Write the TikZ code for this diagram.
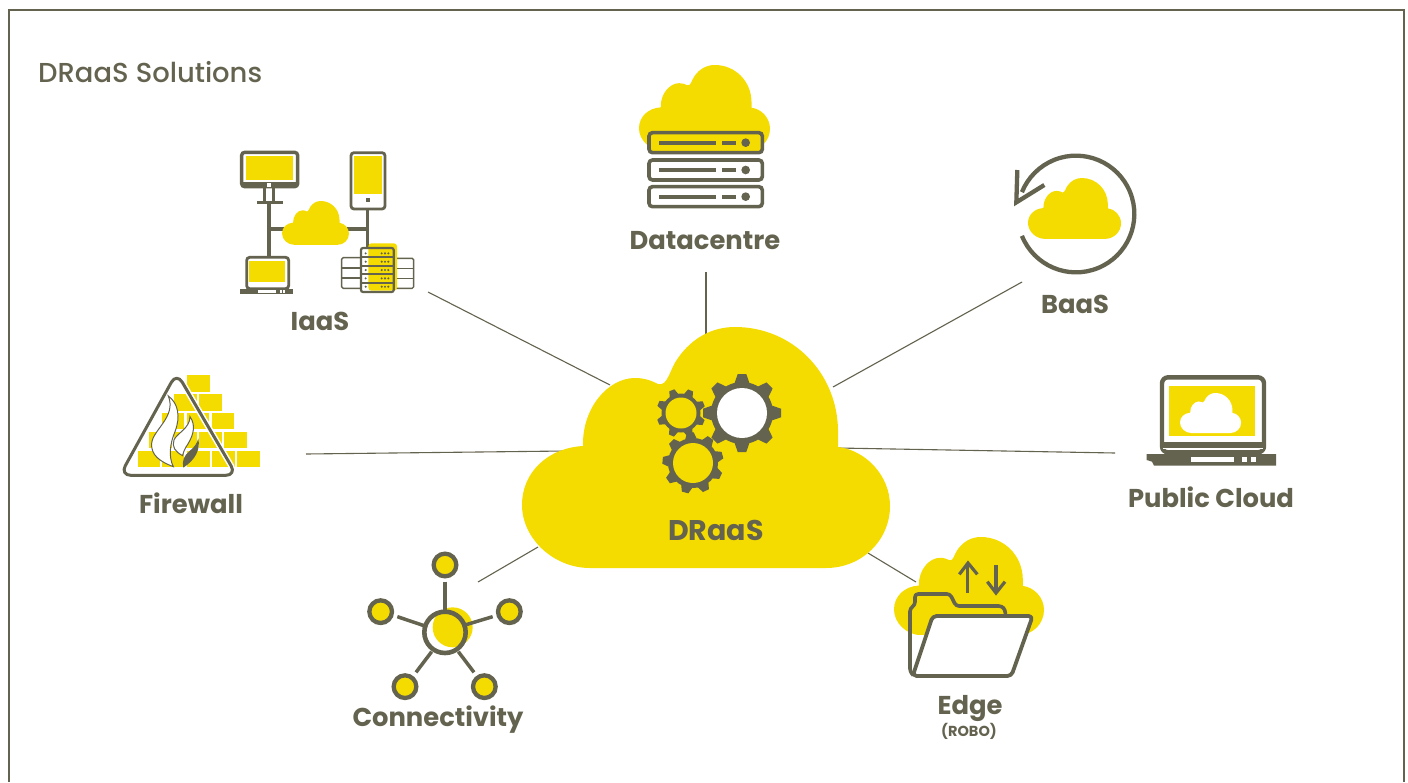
\documentclass[tikz,border=0pt]{standalone}
\usepackage{fontspec}
\setmainfont{Poppins}[BoldFont={Poppins Bold}]
\newfontfamily\titlefont{Poppins Medium}
\definecolor{gy}{HTML}{64634F}
\definecolor{yl}{HTML}{F5DC00}
\tikzset{
  lab/.style={font=\bfseries\fontsize{25.8}{26}\selectfont,text=gy,inner sep=0pt,anchor=center},
  conn/.style={draw=gy,line width=1.1pt}
}
\newcommand{\cloudat}[4]{% x y scale colour
  \fill[#4,shift={(#1,#2)},scale=#3]
  (68,241) .. controls (31,241) and (0,211) .. (0,178)
  .. controls (0,145) and (26,121) .. (61,119)
  .. controls (60,81) and (86,51) .. (113,51)
  .. controls (123,51) and (130,54) .. (136,57)
  .. controls (146,60) and (148,41) .. (156,31)
  .. controls (170,11) and (190,0) .. (213,0)
  .. controls (270,0) and (315,45) .. (316,103)
  .. controls (316,110) and (316,115) .. (316,120)
  .. controls (343,123) and (368,148) .. (368,179)
  .. controls (368,213) and (340,241) .. (304,241) -- cycle;
}
\newcommand{\gearat}[8]{% x y hole body tip teeth rot holecolour
  \begin{scope}[shift={(#1,#2)}]
    \fill[gy] (0,0) circle[radius=#4];
    \foreach \k in {1,...,#6}{
      \pgfmathsetmacro{\ang}{#7+360*\k/#6}
      \fill[gy,rotate=\ang] (#4-1,-#5*0.19) -- (#5,-#5*0.11) -- (#5,#5*0.11) -- (#4-1,#5*0.19) -- cycle;
    }
    \fill[#8] (0,0) circle[radius=#3];
  \end{scope}
}
\begin{document}
\begin{tikzpicture}[x=1pt,y=-1pt]
\useasboundingbox (0,0) rectangle (1408,782);
\fill[white] (0,0) rectangle (1408,782);
\draw[gy,line width=2.6pt] (9,782) -- (9,10) -- (1404,10) -- (1404,782);
\node[anchor=west,inner sep=0pt,text=gy,font=\titlefont\fontsize{27.4}{27}\selectfont] (title) at (38,72) {DRaaS Solutions};

% connectors
\coordinate (c1a) at (428,292); \coordinate (c1b) at (610,385);
\coordinate (c2a) at (706,272); \coordinate (c2b) at (706,337);
\coordinate (c3a) at (1022,282); \coordinate (c3b) at (833,387);
\coordinate (c4a) at (1115,453); \coordinate (c4b) at (838,448);
\coordinate (c5a) at (306,454); \coordinate (c5b) at (565,451);
\coordinate (c6a) at (478,582); \coordinate (c6b) at (538,547);
\coordinate (c7a) at (916,582); \coordinate (c7b) at (868,553);
\draw[conn] (c1a) -- (c1b);
\draw[conn] (c2a) -- (c2b);
\draw[conn] (c3a) -- (c3b);
\draw[conn] (c4a) -- (c4b);
\draw[conn] (c5a) -- (c5b);
\draw[conn] (c6a) -- (c6b);
\draw[conn] (c7a) -- (c7b);

% main cloud
\cloudat{522}{327}{1}{yl}
\gearat{742}{413}{25}{31}{39}{8}{0}{white}
\gearat{681}{413}{15.5}{19.5}{24.5}{8}{22}{yl}
\gearat{693}{463}{20}{25}{30.5}{9}{15}{yl}
\node[lab,font=\bfseries\fontsize{28.5}{28}\selectfont] (draas) at (716,530) {DRaaS};

% datacentre
\cloudat{639}{65}{.356}{yl}
\begin{scope}[shift={(625,55)},scale=1/3]
  \foreach \yy/\cc/\fc in {263/yl,345/white,425/white}{
    \draw[gy,line width=3.6pt,fill=\cc,rounded corners=3.5pt] (72,\yy-30) rectangle (412,\yy+30);
    \fill[gy] (103,\yy-6) rectangle (273,\yy+6);
    \fill[gy] (292,\yy-6) rectangle (333,\yy+6);
    \fill[gy] (362,\yy) circle[radius=13];
  }
\end{scope}
\node[lab] (datacentre) at (705,241) {Datacentre};

% BaaS
\cloudat{1028}{178}{.2527}{yl}
\begin{scope}[shift={(1000,145)},scale=1/3]
  \draw[gy,line width=4.3pt] (228,207) ++(158:175) arc[start angle=158,end angle=-158,radius=175];
  \draw[gy,line width=4.3pt] (52,75) -- (49,172) -- (133,120);
\end{scope}
\node[lab] (baas) at (1075,304) {BaaS};

% Public cloud
\begin{scope}[shift={(1130,365)},scale=1/3]
  \draw[gy,line width=4.4pt,fill=white,rounded corners=6pt] (96,37) rectangle (402,262);
  \fill[yl] (117,63) rectangle (375,212);
  \fill[gy] (96,232) rectangle (402,250);
  \fill[white] (98,250) rectangle (400,252);
  \fill[gy] (50,267) -- (438,267) -- (438,302) -- (72,302) -- (66,290) -- (50,285) -- cycle;
  \fill[white] (183,276) rectangle (313,291);
  \fill[white] (336,276) rectangle (350,291);
  \fill[white] (363,276) rectangle (377,291);
\end{scope}
\cloudat{1180}{393}{.166}{white}
\node[lab] (public) at (1211,497) {Public Cloud};

% Edge
\cloudat{894}{537}{.4076}{yl}
\begin{scope}[shift={(880,530)},scale=1/3]
  \fill[white] (88,315) -- (130,315) -- (100,432) -- (88,432) -- cycle;
  \draw[gy,line width=3.6pt,rounded corners=3pt,line join=round] (100,436) -- (90,425) -- (90,235) -- (105,225) -- (105,192) -- (210,192) -- (228,228) -- (365,228) -- (376,240) -- (376,258);
  \draw[gy,line width=3.8pt,fill=white,rounded corners=4pt,line join=round] (158,258) -- (458,258) -- (394,438) -- (98,438) -- cycle;
  \draw[gy,line width=3.2pt] (263,188) -- (263,100);
  \draw[gy,line width=3.2pt] (238,133) -- (264,99) -- (292,133);
  \draw[gy,line width=3.2pt] (348,105) -- (348,188);
  \draw[gy,line width=3.2pt] (322,155) -- (348,189) -- (375,155);
\end{scope}
\node[lab] (edge) at (970,708) {Edge};
\node[lab,font=\bfseries\fontsize{14.5}{14.5}\selectfont] (robo) at (969,731) {(ROBO)};

% Connectivity
\begin{scope}[shift={(340,540)},scale=1/3]
  \fill[white] (315,277) circle[radius=62];
  \fill[yl] (338,262) circle[radius=60];
  \draw[gy,line width=4.6pt] (315,277) circle[radius=62];
  \draw[gy,line width=3.5pt] (315,125) -- (315,215);
  \draw[gy,line width=3.5pt] (172,230) -- (255,258);
  \draw[gy,line width=3.5pt] (458,230) -- (375,255);
  \draw[gy,line width=3.5pt] (228,397) -- (275,335);
  \draw[gy,line width=3.5pt] (402,397) -- (355,335);
  \foreach \px/\py in {315/75,122/215,508/215,195/440,433/440}{
    \draw[gy,line width=4.3pt,fill=yl] (\px,\py) circle[radius=34];
  }
\end{scope}
\node[lab] (conn) at (438,720) {Connectivity};

% Firewall
\begin{scope}[shift={(110,360)},scale=1/3]
  \fill[yl] (232,45) rectangle (300,95);
  \fill[yl] (192,103) rectangle (260,153);
  \fill[yl] (268,103) rectangle (335,153);
  \fill[yl] (155,160) rectangle (222,207);
  \fill[yl] (230,160) rectangle (297,207);
  \fill[yl] (305,160) rectangle (372,207);
  \fill[yl] (117,215) rectangle (185,263);
  \fill[yl] (192,215) rectangle (260,263);
  \fill[yl] (268,215) rectangle (335,263);
  \fill[yl] (342,215) rectangle (410,263);
  \fill[yl] (85,272) rectangle (150,320);
  \fill[yl] (155,272) rectangle (222,320);
  \fill[yl] (232,272) rectangle (300,320);
  \fill[yl] (307,272) rectangle (375,320);
  \fill[yl] (382,272) rectangle (450,320);
  \draw[white,line width=6pt,rounded corners=11pt,line join=round] (200,38) -- (380,346) -- (30,346) -- cycle;
  \draw[gy,line width=3pt,rounded corners=11pt,line join=round] (200,38) -- (380,346) -- (30,346) -- cycle;
  \draw[gy,line width=1pt,fill=white] (175,108) .. controls (205,130) and (212,170) .. (195,215)
    .. controls (180,250) and (175,290) .. (190,320)
    .. controls (150,305) and (122,285) .. (125,250)
    .. controls (128,210) and (200,170) .. (175,108) -- cycle;
  \draw[gy,line width=1pt,fill=white] (240,170) .. controls (258,195) and (250,225) .. (235,250)
    .. controls (225,265) and (220,275) .. (218,287)
    .. controls (195,275) and (185,260) .. (192,240)
    .. controls (200,220) and (240,205) .. (240,170) -- cycle;
  \fill[gy] (265,235) .. controls (272,270) and (255,300) .. (220,323)
    .. controls (215,305) and (222,285) .. (240,272)
    .. controls (252,262) and (262,250) .. (265,235) -- cycle;
\end{scope}
\node[lab] (firewall) at (191,503) {Firewall};

% IaaS
\begin{scope}[shift={(220,140)},scale=1/3]
  \draw[gy,line width=3.4pt] (147,190) -- (147,350);
  \draw[gy,line width=3.4pt] (147,267) -- (200,267);
  \draw[gy,line width=3.4pt] (380,267) -- (445,267);
  \draw[gy,line width=3.4pt] (442,205) -- (442,325);
  \draw[gy,line width=3pt] (133,145) -- (133,186);
  \draw[gy,line width=3pt] (161,145) -- (161,186);
  \fill[gy] (110,184) rectangle (188,193);
  \draw[gy,line width=3.4pt,fill=white,rounded corners=3pt] (65,37) rectangle (233,140);
  \fill[yl] (78,48) rectangle (220,120);
  \fill[gy] (65,125) rectangle (233,136);
  \fill[white] (142,128) rectangle (153,141);
  \draw[gy,line width=2.8pt,fill=white,rounded corners=3pt] (393,38) rectangle (495,207);
  \fill[yl] (402,48) rectangle (486,162);
  \fill[gy] (438,174) rectangle (450,186);
  \draw[gy,line width=2.8pt,fill=white,rounded corners=3pt] (80,352) rectangle (206,446);
  \fill[yl] (87,363) rectangle (195,427);
  \fill[gy] (60,447) rectangle (220,462);
  \fill[white] (113,450) rectangle (168,460);
  \fill[white] (180,450) rectangle (186,460);
  \fill[white] (190,450) rectangle (195,460);
  \draw[gy,line width=1.4pt,rounded corners=1.5pt] (422,353) -- (365,353) -- (365,445) -- (422,445);
  \draw[gy,line width=1.4pt] (365,384) -- (422,384);
  \draw[gy,line width=1.4pt] (365,414) -- (422,414);
  \draw[gy,line width=1.4pt,rounded corners=1.5pt] (522,355) -- (581,355) -- (581,445) -- (522,445);
  \draw[gy,line width=1.4pt] (522,385) -- (581,385);
  \draw[gy,line width=1.4pt] (522,415) -- (581,415);
  \fill[white] (423,324) rectangle (445,456);
  \fill[yl,rounded corners=3pt] (445,310) rectangle (531,452);
  \draw[gy,line width=2.2pt,rounded corners=2pt] (423,324) rectangle (521,456);
  \foreach \yy in {352,377,402,428}{\draw[gy,line width=1.8pt] (423,\yy) -- (521,\yy);}
  \foreach \yy in {340,365,390,415,440}{
    \fill[gy] (437,\yy) circle[radius=3.5];
    \fill[gy] (485,\yy) circle[radius=3.5];
    \fill[gy] (495,\yy) circle[radius=3.5];
    \fill[gy] (505,\yy) circle[radius=3.5];
  }
\end{scope}
\cloudat{282}{201}{.182}{yl}
\node[lab] (iaas) at (320,321) {IaaS};
\end{tikzpicture}
\end{document}
